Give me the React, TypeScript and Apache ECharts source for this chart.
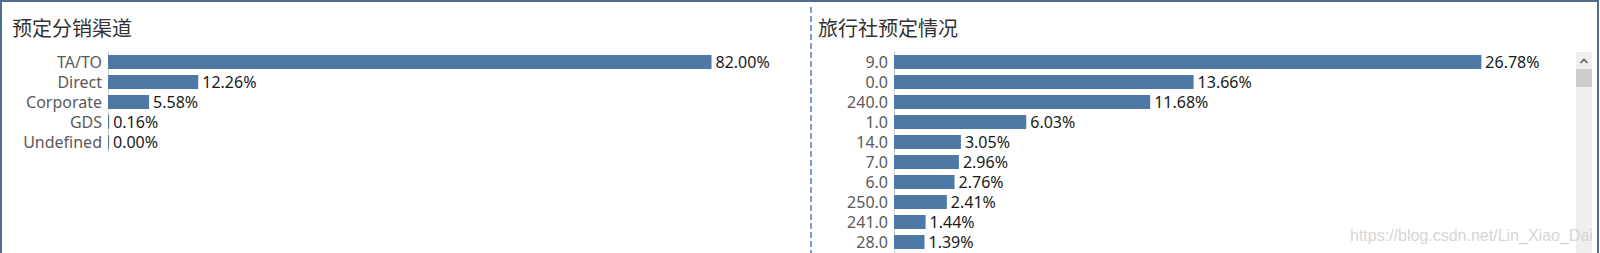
import React, { useEffect, useRef } from "react";
import * as echarts from "echarts";

const channelCategories = ["TA/TO", "Direct", "Corporate", "GDS", "Undefined"];
const channelValues = [82.0, 12.26, 5.58, 0.16, 0.0];

const agentCategories = ["9.0", "0.0", "240.0", "1.0", "14.0", "7.0", "6.0", "250.0", "241.0", "28.0"];
const agentValues = [26.78, 13.66, 11.68, 6.03, 3.05, 2.96, 2.76, 2.41, 1.44, 1.39];

const titles = ["预定分销渠道", "旅行社预定情况"];
const watermark = "https://blog.csdn.net/Lin_Xiao_Dai";

const BAR = "#4e79a7";
const LABEL_FONT = "'Noto Sans', 'DejaVu Sans', sans-serif";
const CJK_FONT = "'Noto Sans CJK SC', sans-serif";

export default function App() {
  const ref = useRef<HTMLDivElement>(null);
  useEffect(() => {
    if (!ref.current) return;
    const chart = echarts.init(ref.current, null, { renderer: "svg" });
    const catAxis = (gridIndex: number, data: string[]) => ({
      type: "category",
      gridIndex,
      data,
      inverse: true,
      axisTick: { show: false },
      axisLine: { show: true, lineStyle: { color: "#c8c8c8", type: "dashed", width: 1 } },
      axisLabel: { color: "#5a5a5a", fontSize: 16, fontFamily: LABEL_FONT, margin: 6, interval: 0 },
      splitLine: { show: false },
    });
    const valAxis = (gridIndex: number, max: number) => ({
      type: "value",
      gridIndex,
      min: 0,
      max,
      show: false,
      splitLine: { show: false },
    });
    const label = {
      show: true,
      position: "right",
      distance: 4,
      color: "#1a1a1a",
      fontSize: 16,
      fontFamily: LABEL_FONT,
      formatter: (p: any) => `${Number(p.value).toFixed(2)}%`,
    };
    chart.setOption({
      animation: false,
      backgroundColor: "#ffffff",
      title: [
        { text: titles[0], left: 7, top: 12, textStyle: { fontSize: 20, fontWeight: "normal", color: "#333", fontFamily: CJK_FONT } },
        { text: titles[1], left: 813, top: 12, textStyle: { fontSize: 20, fontWeight: "normal", color: "#333", fontFamily: CJK_FONT } },
      ],
      grid: [
        { left: 108, top: 52, width: 736, height: 100 },
        { left: 894, top: 52, width: 658, height: 200 },
      ],
      xAxis: [valAxis(0, 100), valAxis(1, 30)],
      yAxis: [catAxis(0, channelCategories), catAxis(1, agentCategories)],
      series: [
        {
          type: "bar",
          xAxisIndex: 0,
          yAxisIndex: 0,
          data: channelValues,
          barWidth: 14,
          barMinHeight: 1,
          itemStyle: { color: BAR },
          label,
        },
        {
          type: "bar",
          xAxisIndex: 1,
          yAxisIndex: 1,
          data: agentValues,
          barWidth: 14,
          barMinHeight: 1,
          itemStyle: { color: BAR },
          label,
        },
      ],
      graphic: [
        {
          type: "rect",
          shape: { x: 1, y: 1, width: 1597, height: 270 },
          style: { fill: "none", stroke: "#4f6e8f", lineWidth: 2 },
          silent: true,
          z: 100,
        },
        {
          type: "line",
          shape: { x1: 811, y1: 7, x2: 811, y2: 253 },
          style: { stroke: "#7d9cc7", lineWidth: 2, lineDash: [6, 3] },
          silent: true,
        },
        {
          type: "rect",
          shape: { x: 1576, y: 52, width: 16, height: 210 },
          style: { fill: "#efefef" },
          silent: true,
        },
        {
          type: "rect",
          shape: { x: 1576, y: 69, width: 16, height: 18 },
          style: { fill: "#cdcdcd" },
          silent: true,
        },
        {
          type: "polyline",
          shape: { points: [[1580.5, 63], [1584, 59.5], [1587.5, 63]] },
          style: { stroke: "#606060", lineWidth: 1.6, fill: "none" },
          silent: true,
        },
        {
          type: "text",
          x: 1350,
          y: 227,
          style: {
            text: watermark,
            fill: "#d6d6d6",
            fontSize: 16,
            fontFamily: "'Liberation Sans', Arial, sans-serif",
          },
          silent: true,
          z: 50,
        },
      ],
    });
    return () => chart.dispose();
  }, []);
  return (
    <div
      ref={ref}
      style={{ position: "absolute", left: 0, top: 0, width: 1600, height: 253 }}
    />
  );
}
